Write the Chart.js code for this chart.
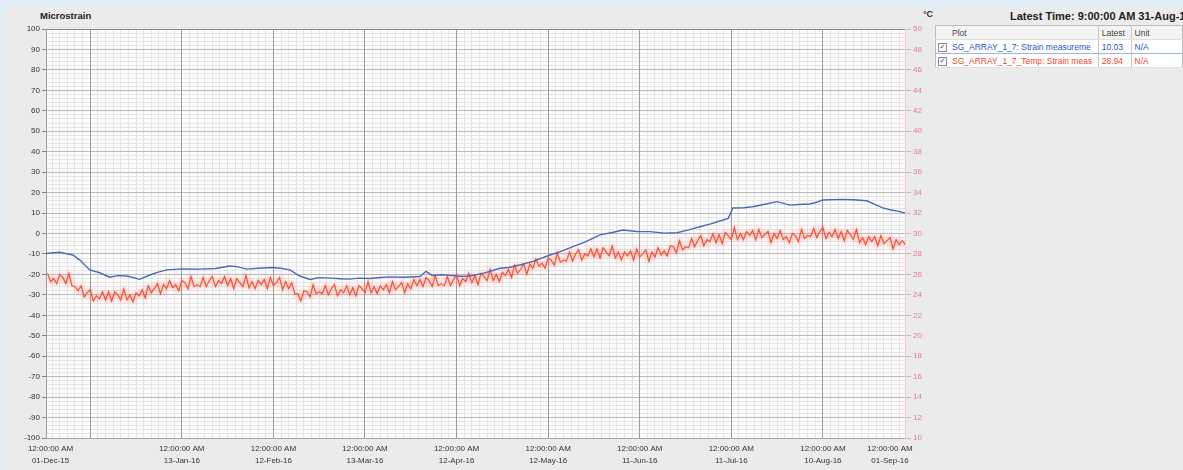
<!DOCTYPE html>
<html lang="en">
<head>
<meta charset="UTF-8">
<title>Microstrain</title>
<script src="https://cdn.jsdelivr.net/npm/chart.js"></script>
<style>
  html, body { margin: 0; width: 1183px; height: 470px; overflow: hidden; }
  body { background: #e3f0f8; font-family: "Liberation Sans", Arial, sans-serif; position: relative; }
  .panel { position: absolute; left: 7px; top: 7px; right: 0; bottom: 0; background: #ebebeb; }
  .wrap { position: absolute; left: 0; top: 0; width: 935px; height: 470px; }
  .ytitle { position: absolute; left: 40px; top: 10px; font-size: 9.5px; font-weight: bold; color: #222; }
  .y2title { position: absolute; left: 923px; top: 9px; font-size: 9px; font-weight: bold; color: #333; }
  .ltitle { position: absolute; left: 1010px; top: 10px; font-size: 11px; font-weight: bold; color: #222; white-space: nowrap; }
  table.lg { position: absolute; left: 935px; top: 25px; border-collapse: collapse; font-size: 8.5px;
             background: #f8f8f8; border: 1px solid #bcbcbc; white-space: nowrap; }
  table.lg td { height: 13px; padding: 0 3px; border-right: 1px solid #c8c8c8; border-bottom: 1px solid #e0e0e0; }
  table.lg td.cb { width: 8px; padding: 0 2px; border-right: none; }
  table.lg td.pl { width: 146px; overflow: hidden; }
  table.lg td.la { width: 29px; }
  table.lg td.un { width: 80px; border-right: none; }
  tr.hd td { color: #444; background: #f3f3f3; }
  tr.r1 td { color: #2a55c8; background: #fff; border-top: 1px solid #9bb5e6; border-bottom: 1px solid #9bb5e6; }
  tr.r2 td { color: #ee4b2e; background: #fff; }
  .box { display: inline-block; width: 7px; height: 7px; border: 1px solid #8a8a8a; background: #fff;
         font-size: 7px; line-height: 7px; text-align: center; color: #2a3f6a; font-family: "DejaVu Sans", sans-serif; }
</style>
</head>
<body>
<div class="panel"></div>
<div class="ytitle">Microstrain</div>
<div class="y2title">°C</div>
<div class="wrap"><canvas id="chart"></canvas></div>
<div class="ltitle">Latest Time: 9:00:00 AM 31-Aug-16</div>
<table class="lg" id="legend"></table>

<script>
// x values are days counted from 01-Dec-15
const strainDays = [-1.5, 3, 7.3, 9.6, 12.8, 16.1, 19.4, 22, 25, 29.2,
  32.5, 35, 38, 43, 48.9, 54, 58.7, 61, 64.3, 68,
  72.8, 76, 78.4, 81.6, 85, 88, 91.5, 95, 98, 101,
  104.6, 108, 111, 116, 121, 123, 125, 128, 130.8, 134,
  137.3, 142, 147.2, 150, 153.7, 158, 163.6, 167, 171.1, 175,
  180, 184, 187.5, 192, 196.4, 201, 205.2, 209, 212.7, 216,
  220.3, 222, 223.5, 227, 230, 234, 238, 242.2, 245, 248.7,
  251, 253, 258.6, 263, 267.4, 270, 272.6, 275, 278.2, 279.9];
const strainValues = [-9.8, -9.2, -10.5, -13, -17.8, -19.2, -21.4, -20.6, -20.8, -22.4,
  -20.3, -19.0, -17.8, -17.3, -17.4, -17.1, -15.9, -16.2, -17.4, -17.0,
  -16.6, -17.1, -17.8, -20.8, -22.5, -21.6, -21.8, -22.1, -22.3, -21.8,
  -22.0, -21.5, -21.2, -21.4, -21.0, -18.5, -20.5, -20.2, -20.5, -20.9,
  -20.8, -19.4, -17.0, -16.6, -15.4, -13.6, -10.5, -8.9, -6.4, -4.2,
  -0.7, 0.5, 1.7, 1.0, 0.9, 0.2, 0.4, 1.8, 3.3, 4.6,
  6.6, 7.4, 12.5, 12.6, 13.1, 14.3, 15.6, 13.9, 14.2, 14.4,
  15.3, 16.4, 16.7, 16.5, 16.0, 14.2, 12.5, 11.6, 10.7, 10.0];

// daily temperature readings, first one on day -1
const tempFirstDay = -1;
const tempValues = [
  26.1, 25.3, 25.6, 25.1, 26.0, 25.7, 25.1, 26.1, 24.9, 24.8,
  24.4, 24.9, 23.8, 24.2, 24.5, 23.4, 23.9, 23.6, 24.3, 23.5,
  24.3, 23.4, 24.3, 24.0, 23.5, 24.6, 23.5, 24.0, 23.3, 24.2,
  23.9, 24.5, 23.7, 24.9, 24.2, 24.6, 25.1, 24.1, 25.0, 24.6,
  25.4, 24.7, 25.0, 24.4, 25.4, 25.2, 24.6, 25.8, 24.8, 25.0,
  24.8, 25.7, 24.8, 25.4, 25.8, 24.8, 25.4, 25.1, 25.8, 24.9,
  25.6, 24.6, 25.6, 25.2, 24.8, 25.9, 24.7, 25.3, 24.6, 25.4,
  25.0, 25.5, 24.6, 25.7, 24.9, 25.2, 25.7, 24.5, 25.3, 24.6,
  25.2, 24.1, 24.1, 23.4, 24.4, 24.3, 23.8, 25.0, 24.1, 24.3,
  24.1, 24.9, 24.0, 24.6, 25.0, 23.9, 24.5, 24.2, 24.9, 24.0,
  24.7, 23.9, 24.9, 24.6, 24.2, 25.3, 24.2, 24.8, 24.1, 24.9,
  24.5, 25.0, 24.2, 25.3, 24.5, 24.8, 25.2, 24.2, 25.1, 24.6,
  25.5, 24.9, 25.5, 24.8, 25.7, 25.4, 24.8, 25.9, 24.9, 25.1,
  24.9, 25.8, 24.9, 25.5, 26.0, 24.9, 25.6, 25.3, 26.1, 25.2,
  25.9, 25.0, 26.1, 25.8, 25.4, 26.5, 25.4, 26.0, 25.3, 26.2,
  25.9, 26.5, 25.7, 26.9, 26.1, 26.5, 27.0, 26.0, 27.0, 26.6,
  27.5, 26.8, 27.1, 26.6, 27.6, 27.4, 26.9, 28.1, 27.2, 27.4,
  27.3, 28.2, 27.3, 28.0, 28.4, 27.4, 28.0, 27.8, 28.5, 27.7,
  28.5, 27.6, 28.6, 28.2, 27.8, 28.8, 27.6, 28.2, 27.4, 28.2,
  27.8, 28.3, 27.4, 28.5, 27.7, 28.0, 28.4, 27.3, 28.2, 27.7,
  28.6, 27.9, 28.3, 27.8, 28.8, 28.7, 28.1, 29.3, 28.4, 28.7,
  28.6, 29.5, 28.7, 29.3, 29.8, 28.8, 29.4, 29.2, 30.0, 29.1,
  29.9, 29.0, 30.1, 29.8, 29.4, 30.6, 29.4, 30.0, 29.4, 30.2,
  29.8, 30.3, 29.4, 30.4, 29.6, 29.9, 30.2, 29.1, 30.0, 29.5,
  30.3, 29.4, 29.7, 29.1, 30.0, 29.8, 29.2, 30.4, 29.5, 29.8,
  29.7, 30.5, 29.6, 30.2, 30.6, 29.5, 30.1, 29.7, 30.4, 29.5,
  30.2, 29.3, 30.3, 29.9, 29.4, 30.4, 29.1, 29.6, 28.9, 29.7,
  29.2, 29.7, 28.8, 29.8, 29.0, 29.3, 29.6, 28.5, 29.4, 28.9, 29.3, 28.9];

const xTickDays = [0, 43, 73, 103, 133, 163, 193, 223, 253, 275];
const xTickDates = ['01-Dec-15', '13-Jan-16', '12-Feb-16', '13-Mar-16', '12-Apr-16',
  '12-May-16', '11-Jun-16', '11-Jul-16', '10-Aug-16', '01-Sep-16'];
const xTickTime = '12:00:00 AM';

const legendNames = ['SG_ARRAY_1_7: Strain measureme', 'SG_ARRAY_1_7_Temp: Strain meas'];
const legendLatest = ['10.03', '28.94'];
const legendUnits = ['N/A', 'N/A'];

// legend table
let html = '<tr class="hd"><td class="cb"></td><td class="pl">Plot</td><td class="la">Latest</td><td class="un">Unit</td></tr>';
legendNames.forEach((n, i) => {
  html += '<tr class="r' + (i + 1) + '"><td class="cb"><span class="box">✓</span></td><td class="pl">' + n +
    '</td><td class="la">' + legendLatest[i] + '</td><td class="un">' + legendUnits[i] + '</td></tr>';
});
document.getElementById('legend').innerHTML = html;

const X_MIN = -1.5, X_MAX = 279.9;
const GRID_START = 13, GRID_MAJOR = 30, GRID_MINOR = 2.5;

function isMajorX(v) {
  const k = (v - GRID_START) / GRID_MAJOR;
  return Math.abs(k - Math.round(k)) < 1e-6;
}

function gridTicks(s) {
  const t = [];
  let v = GRID_START - GRID_MINOR * Math.floor((GRID_START - X_MIN) / GRID_MINOR);
  for (; v <= X_MAX; v += GRID_MINOR) t.push({ value: v });
  s.ticks = t;
}

Chart.defaults.font.family = '"Liberation Sans", Arial, sans-serif';
Chart.defaults.font.size = 8;
Chart.defaults.color = '#333';

const bgPlugin = {
  id: 'plotBg',
  beforeDraw(chart) {
    const a = chart.chartArea, c = chart.ctx;
    c.save();
    c.fillStyle = '#fcfcfc';
    c.fillRect(a.left, a.top, a.right - a.left, a.bottom - a.top);
    c.restore();
  },
  beforeDatasetDraw(chart, args) {
    if (args.index === 1) {
      chart.ctx.save();
      chart.ctx.shadowColor = 'rgba(255,100,80,0.8)';
      chart.ctx.shadowBlur = 5;
    }
  },
  afterDatasetDraw(chart, args) {
    if (args.index === 1) chart.ctx.restore();
  }
};

new Chart(document.getElementById('chart'), {
  type: 'line',
  data: {
    datasets: [
      {
        label: legendNames[0],
        data: strainDays.map((d, i) => ({ x: d, y: strainValues[i] })),
        borderColor: '#4d68b8',
        borderWidth: 1.4,
        pointRadius: 0,
        tension: 0,
        yAxisID: 'y',
        order: 0
      },
      {
        label: legendNames[1],
        data: tempValues.map((v, i) => ({ x: tempFirstDay + i, y: v })),
        borderColor: '#f4513a',
        borderWidth: 1.2,
        pointRadius: 0,
        tension: 0,
        yAxisID: 'y2',
        order: 1
      }
    ]
  },
  options: {
    responsive: true,
    maintainAspectRatio: false,
    animation: false,
    layout: { padding: { top: 29, left: 0, right: 0, bottom: 0 } },
    plugins: { legend: { display: false }, tooltip: { enabled: false } },
    scales: {
      x: {
        type: 'linear',
        min: X_MIN, max: X_MAX,
        afterBuildTicks: s => { s.ticks = xTickDays.map(d => ({ value: d })); },
        afterFit: s => { s.height = 32; },
        ticks: {
          autoSkip: false, maxRotation: 0, padding: 5, color: '#333',
          font: { size: 8, lineHeight: 1.5 },
          callback: (v, i) => [xTickTime, xTickDates[i]]
        },
        grid: { drawOnChartArea: false, drawTicks: false },
        border: { display: true, color: '#a8a8a8' }
      },
      // major vertical grid, drawn over the horizontal lines
      xg: {
        type: 'linear',
        position: 'top',
        min: X_MIN, max: X_MAX,
        afterBuildTicks: gridTicks,
        afterFit: s => { s.height = 0; },
        ticks: { display: false },
        grid: {
          z: -0.5,
          drawTicks: false,
          color: c => (c.tick && isMajorX(c.tick.value)) ? '#9c9c9c' : 'rgba(0,0,0,0)'
        },
        border: { display: true, color: '#8c8c8c' }
      },
      // minor vertical grid
      xm: {
        type: 'linear',
        position: 'top',
        min: X_MIN, max: X_MAX,
        afterBuildTicks: gridTicks,
        afterFit: s => { s.height = 0; },
        ticks: { display: false },
        grid: {
          z: -2,
          drawTicks: false,
          color: c => (c.tick && !isMajorX(c.tick.value)) ? '#e3e3e3' : 'rgba(0,0,0,0)'
        },
        border: { display: false }
      },
      y: {
        position: 'left',
        min: -100, max: 100,
        afterFit: s => { s.width = 46; },
        ticks: {
          stepSize: 2, autoSkip: false, padding: 2, color: '#333',
          callback: v => (v % 10 === 0 ? v : '')
        },
        grid: {
          tickLength: 4,
          color: c => (c.tick && c.tick.value % 10 === 0) ? '#bcbcbc' : '#e6e6e6',
          tickColor: c => (c.tick && c.tick.value % 10 === 0) ? '#888' : 'rgba(0,0,0,0)'
        },
        border: { display: true, color: '#a0a0a0' }
      },
      y2: {
        position: 'right',
        min: 10, max: 50,
        afterFit: s => { s.width = 30; },
        ticks: { stepSize: 2, autoSkip: false, padding: 2, color: '#e07aa0' },
        grid: { drawOnChartArea: false, tickLength: 6, color: '#eaa6bf' },
        border: { display: true, color: '#f1c6d4' }
      }
    }
  },
  plugins: [bgPlugin]
});
</script>
</body>
</html>
